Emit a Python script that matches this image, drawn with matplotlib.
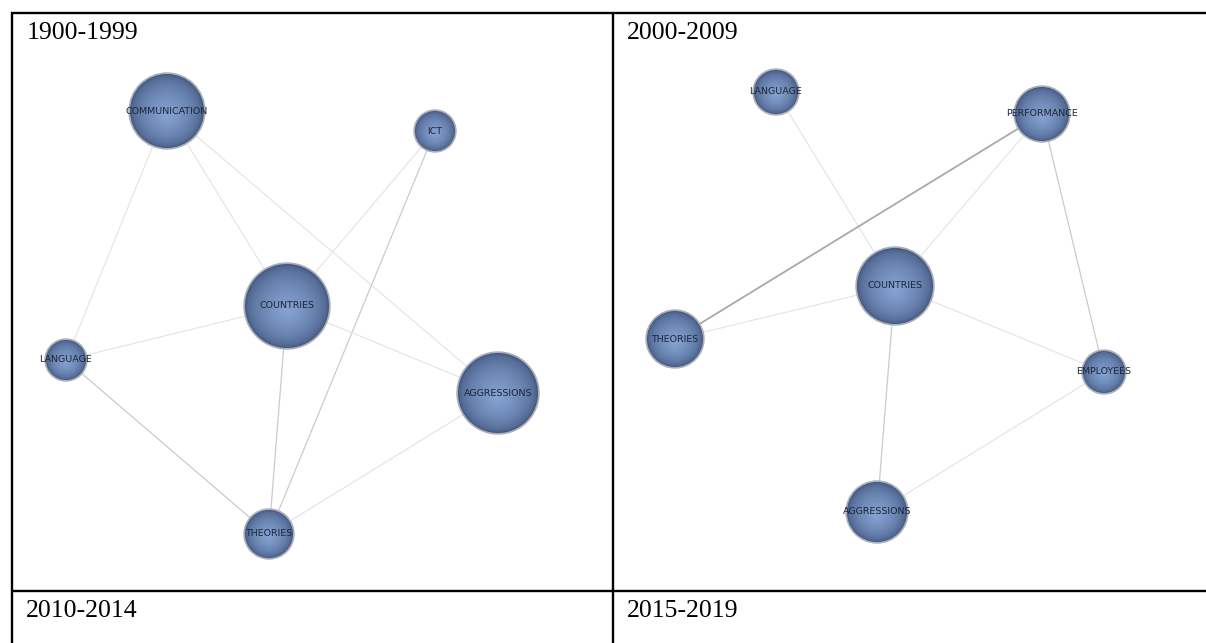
import matplotlib.pyplot as plt
import numpy as np
from matplotlib.patches import Circle

# panel titles
titles = ['1900-1999', '2000-2009', '2010-2014', '2015-2019']

# 1900-1999 network (pixel layout)
p1_names = ['COMMUNICATION', 'ICT', 'COUNTRIES', 'LANGUAGE', 'AGGRESSIONS', 'THEORIES']
p1_x = [167, 435, 287, 66, 498, 269]
p1_y = [111, 131, 306, 360, 393, 534]
p1_r = [37, 20, 42, 20, 40, 24]
p1_edges = [('COMMUNICATION', 'LANGUAGE', 1), ('COMMUNICATION', 'COUNTRIES', 1),
            ('COMMUNICATION', 'AGGRESSIONS', 1), ('ICT', 'COUNTRIES', 1),
            ('ICT', 'THEORIES', 2), ('LANGUAGE', 'COUNTRIES', 1),
            ('LANGUAGE', 'THEORIES', 2), ('COUNTRIES', 'THEORIES', 2),
            ('COUNTRIES', 'AGGRESSIONS', 1), ('AGGRESSIONS', 'THEORIES', 1)]

# 2000-2009 network
p2_names = ['LANGUAGE', 'PERFORMANCE', 'COUNTRIES', 'THEORIES', 'EMPLOYEES', 'AGGRESSIONS']
p2_x = [776, 1042, 895, 675, 1104, 877]
p2_y = [92, 114, 286, 339, 372, 512]
p2_r = [22, 27, 38, 28, 21, 30]
p2_edges = [('LANGUAGE', 'COUNTRIES', 1), ('PERFORMANCE', 'THEORIES', 3),
            ('PERFORMANCE', 'COUNTRIES', 1), ('PERFORMANCE', 'EMPLOYEES', 2),
            ('THEORIES', 'COUNTRIES', 1), ('COUNTRIES', 'EMPLOYEES', 1),
            ('COUNTRIES', 'AGGRESSIONS', 2), ('AGGRESSIONS', 'EMPLOYEES', 1)]

edge_col = {1: '#e3e3e3', 2: '#cbcbcb', 3: '#a9a9a9'}
edge_lw = {1: 0.8, 2: 0.9, 3: 1.3}

fig = plt.figure(figsize=(12.06, 6.43), dpi=100)
ax = fig.add_axes([0, 0, 1, 1])
ax.set_xlim(0, 1206)
ax.set_ylim(643, 0)
ax.axis('off')

# table grid
lc = 'black'
ax.plot([11, 1206], [12.5, 12.5], color=lc, lw=1.7, solid_capstyle='butt')
ax.plot([11, 1206], [591, 591], color=lc, lw=1.7, solid_capstyle='butt')
ax.plot([11.5, 11.5], [12, 643], color=lc, lw=1.7, solid_capstyle='butt')
ax.plot([612.5, 612.5], [12, 643], color=lc, lw=1.7, solid_capstyle='butt')

tx = [27, 627, 26, 627]
ty = [39, 39, 617, 617]
for t, x, y in zip(titles, tx, ty):
    ax.text(x, y, t, fontsize=18.5, family='Liberation Serif', color='black',
            ha='left', va='baseline')

outer = np.array([0x45, 0x5a, 0x82]) / 255
inner = np.array([0x86, 0xa4, 0xd4]) / 255


def draw_net(names, xs, ys, rs, edges):
    pos = {n: (x, y, r) for n, x, y, r in zip(names, xs, ys, rs)}
    for a, b, w in edges:
        ax.plot([pos[a][0], pos[b][0]], [pos[a][1], pos[b][1]],
                color=edge_col[w], lw=edge_lw[w], zorder=1)
    for n in names:
        x, y, r = pos[n]
        ax.add_patch(Circle((x, y), r + 1.0, color='#a9aeb8', zorder=2))
        steps = 30
        for i in range(steps):
            f = i / steps
            rr = r * (1 - f)
            cy = y + r * 0.12 * f
            c = outer + (inner - outer) * (f ** 0.55)
            ax.add_patch(Circle((x, cy), rr, color=c, zorder=3, lw=0))
        ax.text(x, y, n, fontsize=6.8, color='#1c2638', ha='center', va='center',
                zorder=4)


draw_net(p1_names, p1_x, p1_y, p1_r, p1_edges)
draw_net(p2_names, p2_x, p2_y, p2_r, p2_edges)

fig.savefig('out.png', dpi=100)
